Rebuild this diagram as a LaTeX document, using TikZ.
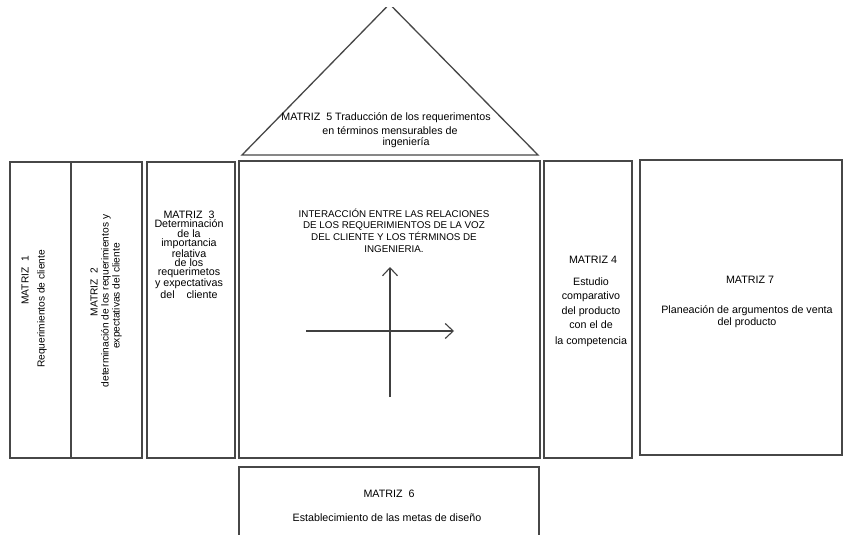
\documentclass[tikz,border=0pt]{standalone}
\usepackage{fontspec}
\setmainfont{Liberation Sans}
\usetikzlibrary{arrows.meta}
\tikzset{
  panel/.style={draw=black!72, line width=1.3pt, rectangle, inner sep=0pt, outer sep=0pt, anchor=north west},
  edge/.style={draw=black!72, line width=1.3pt},
  lbl/.style={inner sep=0pt, outer sep=0pt, font=\fontsize{10.7}{12}\selectfont, text=black},
  vlbl/.style={lbl, rotate=90, font=\fontsize{10.2}{12}\selectfont},
  axis/.style={draw=black!75, line width=1.1pt, -{Straight Barb[length=8pt,width=15pt,line width=1.1pt]}},
}
\begin{document}
\begin{tikzpicture}[x=1pt,y=-1pt]
\useasboundingbox (0,0) rectangle (846,535);
\fill[white] (0,0) rectangle (846,535);

\begin{scope}
\clip (0,8) rectangle (846,535);

% roof: triangle of the correlation matrix
\coordinate (rl) at (242,155);
\coordinate (rr) at (538,155);
\coordinate (rt) at (389.5,4);
\draw[edge, line join=miter] (rl) -- (rt) -- (rr) -- cycle;

% columns of the house
\node[panel, minimum width=61pt, minimum height=296pt] (m1) at (10,162) {};
\node[panel, minimum width=71pt, minimum height=296pt] (m2) at (71,162) {};
\node[panel, minimum width=88pt, minimum height=296pt] (m3) at (147,162) {};
\node[panel, minimum width=301pt, minimum height=297pt] (core) at (239,161) {};
\node[panel, minimum width=88pt, minimum height=297pt] (m4) at (544,161) {};
\node[panel, minimum width=202pt, minimum height=295pt] (m7) at (640,160) {};
% basement
\node[panel, minimum width=300pt, minimum height=90pt] (m6) at (239,467) {};
\end{scope}

% roof text
\node[lbl] (m5a) at (386,118) {MATRIZ\ \ 5 Traducción de los requerimentos};
\node[lbl] (m5b) at (390,131) {en términos mensurables de};
\node[lbl] (m5c) at (406,143) {ingeniería};

% matrix 1 and 2 (vertical texts)
\node[vlbl] (m1a) at (25,280.5) {MATRIZ\ \ 1};
\node[vlbl] (m1b) at (42,309) {Requerimientos de cliente};
\node[vlbl] (m2a) at (94,292) {MATRIZ\ \ 2};
\node[vlbl] (m2b) at (106,301) {determinación de los requerimientos y};
\node[vlbl] (m2c) at (117,296) {expectativas del cliente};

% matrix 3
\node[lbl, align=center, font=\fontsize{10.7}{9.3}\selectfont] (m3t) at (189,255)
  {MATRIZ\ \ 3\\Determinación\\de la\\importancia\\relativa\\de los\\requerimetos\\y expectativas\\[1pt]del\ \ \ \ cliente};

% core text
\node[lbl, align=center, font=\fontsize{9.8}{11.7}\selectfont] (coret) at (394,230.5)
  {INTERACCIÓN ENTRE LAS RELACIONES\\DE LOS REQUERIMIENTOS DE LA VOZ\\DEL CLIENTE Y LOS TÉRMINOS DE\\INGENIERIA.};

% axes inside the core
\coordinate (vb) at (390,397);
\coordinate (vt) at (390,267);
\coordinate (hl) at (306,331);
\coordinate (hr) at (454,331);
\draw[axis] (vb) -- (vt);
\draw[axis] (hl) -- (hr);

% matrix 4
\node[lbl] (m4a) at (593,260) {MATRIZ 4};
\node[lbl, align=center, font=\fontsize{10.7}{14.4}\selectfont] (m4b) at (591,312)
  {Estudio\\comparativo\\del producto\\con el de\\[1.5pt]la competencia};

% matrix 7
\node[lbl] (m7a) at (750,280) {MATRIZ 7};
\node[lbl, align=center] (m7b) at (747,317)
  {Planeación de argumentos de venta\\del producto};

% matrix 6
\node[lbl] (m6a) at (389,494) {MATRIZ\ \ 6};
\node[lbl] (m6b) at (387,518) {Establecimiento de las metas de diseño};
\end{tikzpicture}
\end{document}
